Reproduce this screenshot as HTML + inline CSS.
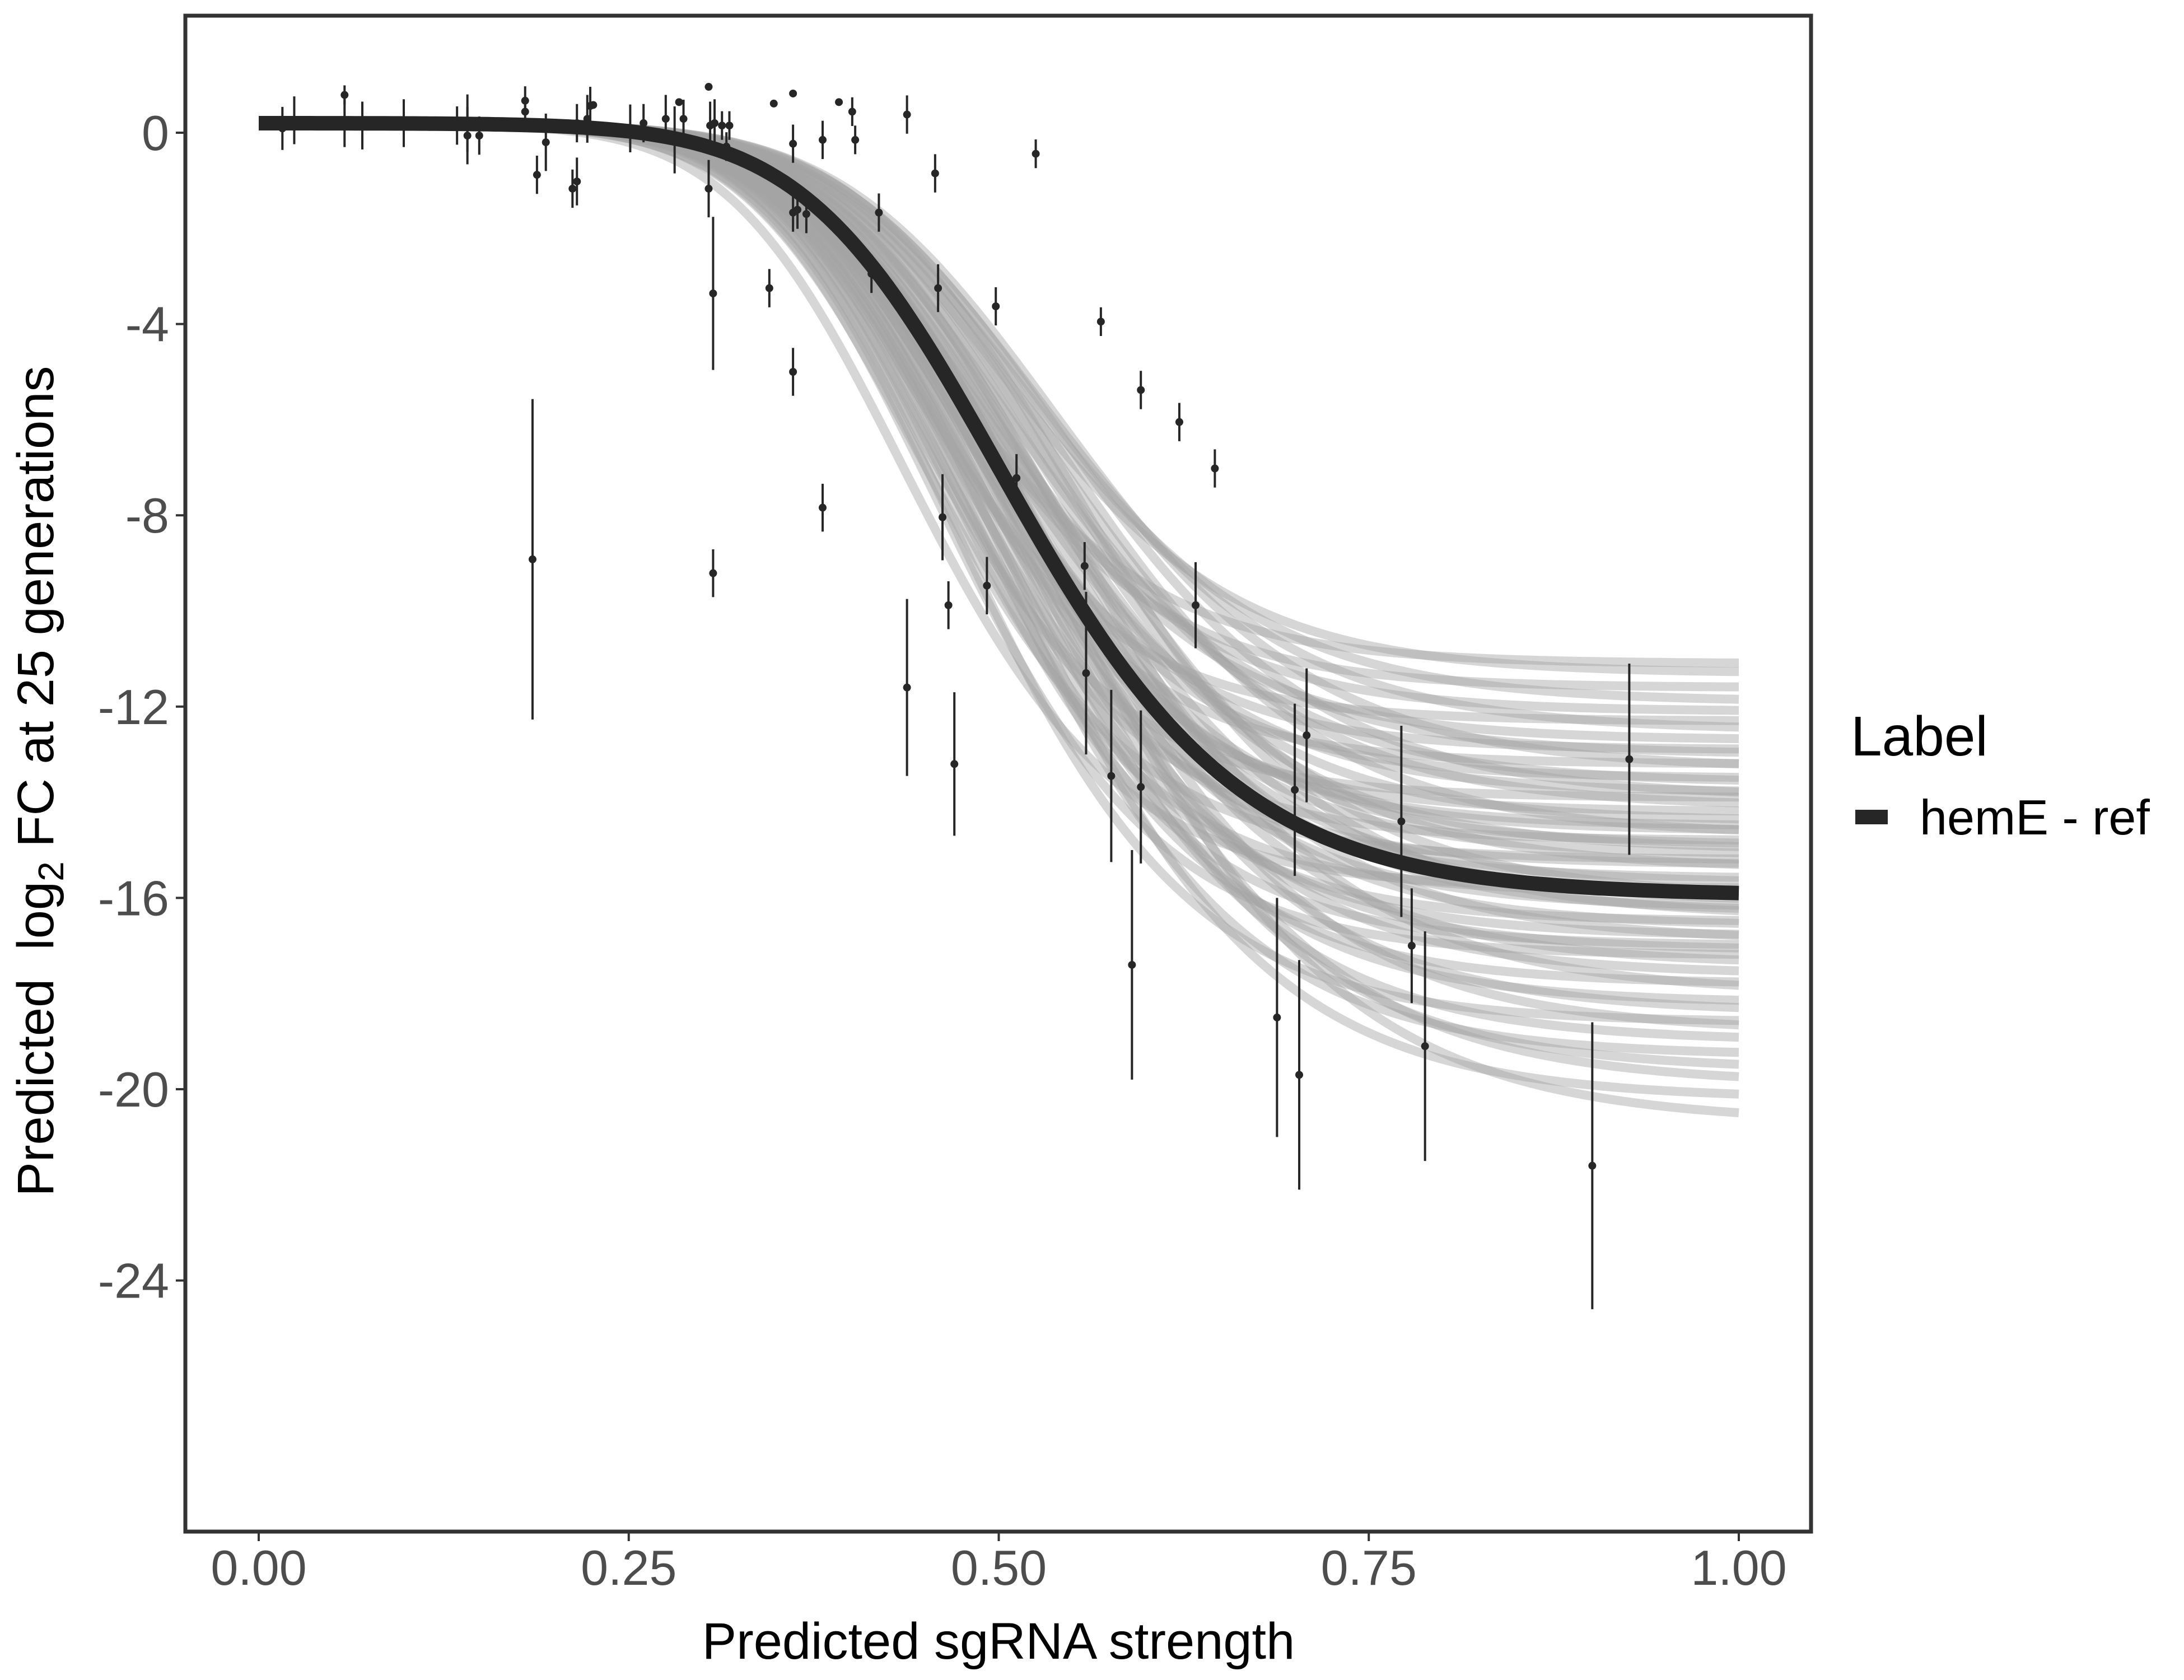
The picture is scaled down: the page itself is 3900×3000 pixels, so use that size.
<!DOCTYPE html>
<html><head><meta charset="utf-8"><style>
html,body{margin:0;padding:0;background:#fff;}
svg{display:block;font-family:"Liberation Sans",sans-serif;}
</style></head><body>
<svg id="chart" xmlns="http://www.w3.org/2000/svg" width="3900" height="3000" viewBox="0 0 3900 3000">
<rect width="3900" height="3000" fill="#fff"/>
<g id="draws"></g>
<g id="fit"></g>
<g id="points"></g>
<rect x="331" y="28" width="2903" height="2707" fill="none" stroke="#333" stroke-width="7"/>
<g id="axes"></g>
<text x="1783" y="2962" font-size="92" text-anchor="middle" fill="#000">Predicted sgRNA strength</text>
<text transform="translate(95,1395) rotate(-90)" font-size="92" text-anchor="middle" fill="#000" xml:space="preserve">Predicted  log<tspan font-size="64" dy="18">2</tspan><tspan dy="-18"> FC at 25 generations</tspan></text>
<text x="3305" y="1349" font-size="100" fill="#000">Label</text>
<rect x="3313" y="1446" width="58" height="26" fill="#262626"/>
<text x="3428" y="1490" font-size="88" fill="#000">hemE - ref</text>
</svg>
<script>
const xTicks=[0,0.25,0.5,0.75,1];
const xTickLabels=["0.00","0.25","0.50","0.75","1.00"];
const yTicks=[0,-4,-8,-12,-16,-20,-24];
const yTickLabels=["0","-4","-8","-12","-16","-20","-24"];
const fitTop=0.2, fitBottom=-15.95, fitMid=0.439, fitScale=0.0873, fitNu=2;
const drawAsym=[-11.1,-11.3,-11.6,-11.9,-12.1,-12.3,-12.5,-12.7,-12.9,-13.0,-13.2,-13.3,-13.5,-13.6,-13.8,-13.9,-14.1,-14.2,-14.4,-14.5,-14.7,-14.8,-15.0,-15.1,-15.3,-15.4,-15.6,-15.7,-15.9,-16.0,-16.2,-16.3,-16.5,-16.6,-16.8,-16.9,-17.1,-17.2,-17.4,-17.6,-17.8,-18.0,-18.2,-18.4,-18.6,-18.8,-19.0,-19.3,-19.6,-19.9,-20.2,-20.7,-15.2,-16.4,-14.6,-17.0,-13.9,-15.8,-16.1,-14.9];
const drawMid=[0.40,0.44,0.41,0.45,0.42,0.39,0.46,0.43,0.41,0.44,0.40,0.47,0.42,0.45,0.43,0.39,0.46,0.41,0.44,0.42,0.47,0.40,0.45,0.43,0.41,0.46,0.42,0.44,0.40,0.47,0.43,0.45,0.41,0.44,0.42,0.46,0.43,0.40,0.45,0.44,0.42,0.47,0.43,0.45,0.41,0.46,0.44,0.43,0.45,0.46,0.44,0.47,0.39,0.48,0.42,0.41,0.47,0.38,0.46,0.43];
const drawScale=[0.080,0.085,0.078,0.090,0.082,0.076,0.092,0.084,0.079,0.088,0.077,0.095,0.081,0.090,0.086,0.075,0.093,0.080,0.089,0.083,0.096,0.078,0.091,0.087,0.082,0.094,0.084,0.089,0.080,0.097,0.087,0.092,0.083,0.090,0.086,0.095,0.088,0.081,0.094,0.091,0.086,0.099,0.089,0.094,0.085,0.097,0.092,0.090,0.095,0.098,0.093,0.100,0.079,0.094,0.085,0.083,0.096,0.078,0.092,0.088];
const ptX=[0.016,0.024,0.058,0.058,0.070,0.098,0.134,0.141,0.141,0.149,0.180,0.180,0.188,0.194,0.212,0.215,0.215,0.222,0.224,0.226,0.251,0.260,0.275,0.281,0.287,0.284,0.304,0.304,0.307,0.307,0.305,0.308,0.313,0.316,0.318,0.348,0.345,0.361,0.361,0.361,0.361,0.364,0.370,0.381,0.381,0.185,0.392,0.401,0.403,0.419,0.414,0.438,0.438,0.457,0.459,0.462,0.466,0.470,0.492,0.498,0.512,0.525,0.558,0.559,0.569,0.576,0.590,0.596,0.596,0.622,0.633,0.646,0.688,0.700,0.703,0.708,0.772,0.779,0.788,0.901,0.926];
const ptY=[0.09,0.26,0.79,0.2,0.15,0.2,0.15,0.2,-0.06,-0.06,0.67,0.44,-0.88,-0.2,-1.17,-1.02,0.2,0.29,0.56,0.58,0.09,0.2,0.29,-0.15,0.29,0.64,0.96,-1.17,-3.36,-9.21,0.15,0.2,0.15,-0.29,0.15,0.61,-3.25,0.82,-0.23,-1.67,-5.0,-1.61,-1.7,-0.15,-7.84,-8.92,0.64,0.44,-0.15,-1.67,-2.95,0.38,-11.6,-0.85,-3.25,-8.04,-9.88,-13.2,-9.47,-3.63,-7.22,-0.44,-9.06,-11.3,-3.95,-13.45,-17.4,-5.38,-13.68,-6.05,-9.88,-7.02,-18.5,-13.74,-19.7,-12.6,-14.4,-17.0,-19.1,-21.6,-13.1];
const ptErr=[0.45,0.5,0.2,0.5,0.5,0.5,0.4,0.6,0.6,0.4,0.3,0.3,0.4,0.6,0.4,0.5,0.4,0.5,0.4,0,0.5,0.4,0.5,0.7,0.4,0,0,0.6,1.6,0.5,0.5,0.5,0.3,0.3,0.3,0,0.4,0,0.4,0.4,0.5,0.4,0.4,0.4,0.5,3.35,0,0.3,0.3,0.4,0.4,0.4,1.85,0.4,0.5,0.9,0.5,1.5,0.6,0.4,0.5,0.3,0.5,1.7,0.3,1.8,2.4,0.4,1.6,0.4,0.9,0.4,2.5,1.8,2.4,1.4,2.0,1.2,2.4,3.0,2.0];

const NS="http://www.w3.org/2000/svg";
const X0=331,Y1=2735;
function sx(v){return 462+v*(3105-462);}
function sy(v){return 237-v*85.4;}
function mk(tag,attrs,parent){const e=document.createElementNS(NS,tag);for(const k in attrs)e.setAttribute(k,attrs[k]);parent.appendChild(e);return e;}
function rich(x,top,bot,mid,sc){const f=Math.pow(1+Math.exp(-(x-mid)/sc),-fitNu);return top+(bot-top)*f;}
function curvePath(top,bot,mid,sc){let d="";for(let i=0;i<=200;i++){const x=i/200;d+=(i?"L":"M")+sx(x).toFixed(1)+","+sy(rich(x,top,bot,mid,sc)).toFixed(1);}return d;}

const gd=document.getElementById('draws');
for(let i=0;i<drawAsym.length;i++){
  const p=mk('path',{d:curvePath(fitTop,drawAsym[i],drawMid[i],drawScale[i]),fill:'none',stroke:'#a3a3a3','stroke-opacity':0.45,'stroke-width':16},gd);
  
  
}
const gf=document.getElementById('fit');
const fp=mk('path',{d:curvePath(fitTop,fitBottom,fitMid,fitScale),fill:'none',stroke:'#262626','stroke-width':26},gf);



const gp=document.getElementById('points');
for(let i=0;i<ptX.length;i++){
  const cx=sx(ptX[i]);
  if(ptErr[i]>0){
    const l=mk('line',{x1:cx,x2:cx,y1:sy(ptY[i]+ptErr[i]),y2:sy(ptY[i]-ptErr[i]),stroke:'#262626','stroke-width':4},gp);
    
    
  }
  const c=mk('circle',{cx:cx,cy:sy(ptY[i]),r:7,fill:'#262626'},gp);
  
  
}

const ga=document.getElementById('axes');
for(let i=0;i<xTicks.length;i++){
  const x=sx(xTicks[i]);
  const t=mk('line',{x1:x,x2:x,y1:Y1+3,y2:Y1+17,stroke:'#333','stroke-width':4},ga);
  
  
  const tx=mk('text',{x:x,y:2830,'font-size':88,'text-anchor':'middle',fill:'#4d4d4d'},ga);
  tx.textContent=xTickLabels[i];
  
  
}
for(let i=0;i<yTicks.length;i++){
  const y=sy(yTicks[i]);
  const t=mk('line',{x1:X0-17,x2:X0-3,y1:y,y2:y,stroke:'#333','stroke-width':4},ga);
  
  
  const tx=mk('text',{x:302,y:y+31,'font-size':88,'text-anchor':'end',fill:'#4d4d4d'},ga);
  tx.textContent=yTickLabels[i];
  
  
}
</script>
</body></html>
